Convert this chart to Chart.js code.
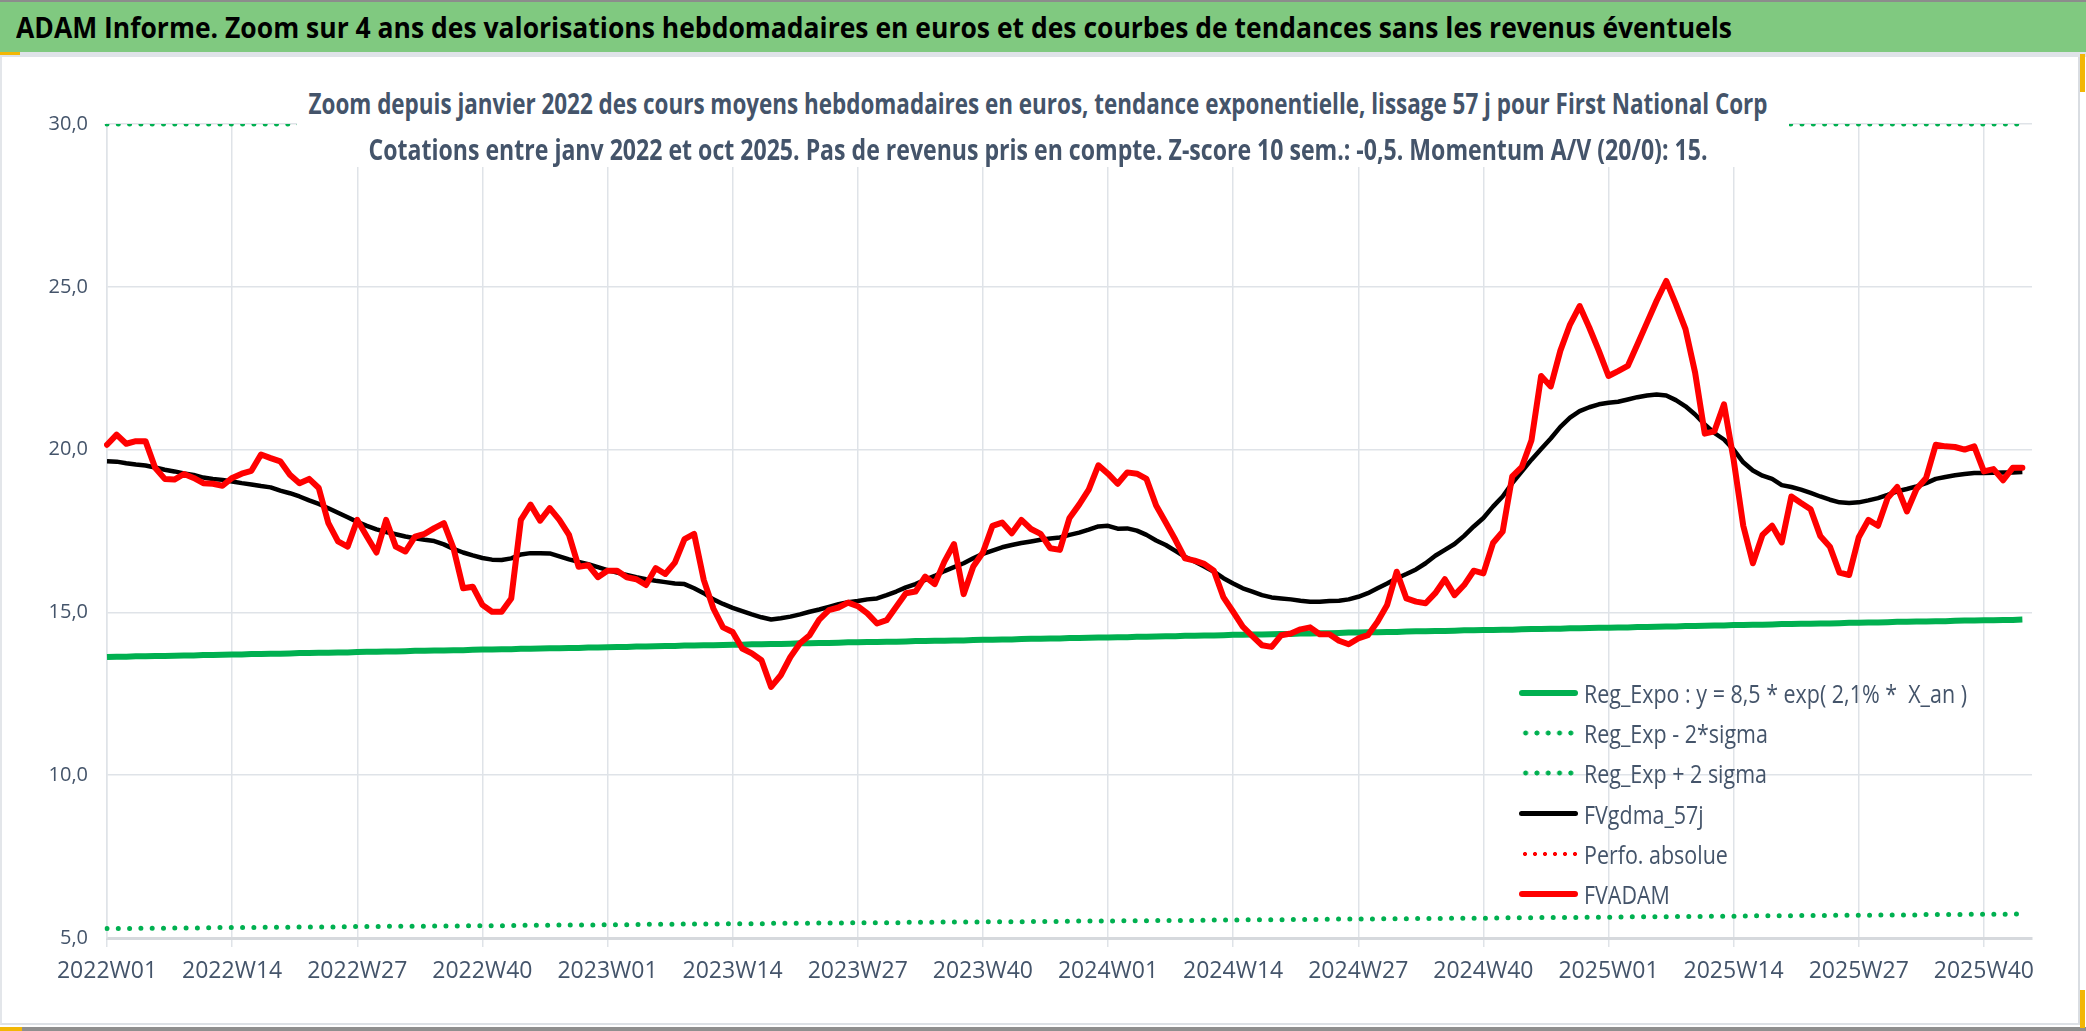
<!DOCTYPE html>
<html lang="fr">
<head>
<meta charset="utf-8">
<title>ADAM Informe - First National Corp</title>
<script src="https://cdn.jsdelivr.net/npm/chart.js@4.4.1/dist/chart.umd.min.js"></script>
<style>
  html, body { margin: 0; padding: 0; background: #fff; }
  body { position: relative; width: 2086px; height: 1031px; overflow: hidden;
         font-family: "Liberation Sans Narrow", "Open Sans", sans-serif; }
  #banner { position: absolute; left: 0; top: 0; width: 2086px; height: 50px;
            background: #80c980; border-top: 2px solid #8c8c8c; }
  #title { position: absolute; left: 16px; top: 0; line-height: 50px; font-size: 29px;
           font-weight: bold; color: #000; white-space: pre; transform-origin: left center; }
  #sep { position: absolute; left: 0; top: 52px; width: 2086px; height: 5px; background: #dfe3e8; }
  #frame { position: absolute; left: 0; top: 57px; width: 2076px; height: 966px;
           border-left: 2px solid #e3e6ea; border-right: 2px solid #d9dde2; border-bottom: 2px solid #dde1e6; }
  #bottomline { position: absolute; left: 0; top: 1027px; width: 2086px; height: 4px; background: #8f8f8f; }
  #c { position: absolute; left: 0; top: 0; }
  #subtitle { position: absolute; left: 295px; top: 15px; width: 1492px; height: 95px; background: #fff; }
  .subline { position: absolute; left: 741px; height: 44px; line-height: 44px;
             color: #44546a; font-weight: bold; font-size: 28px; white-space: pre; transform-origin: left center; }
  #legend { position: absolute; left: 1517px; top: 616px; color: #44546a; font-size: 25px; }
  .row { display: flex; align-items: center; height: 40.2px; }
  .sample { width: 59px; margin-right: 6px; flex: none; }
  .lab { display: inline-block; white-space: pre; transform-origin: left center; }
  .mark { position: absolute; background: #f2b705; }
</style>
</head>
<body>
<div id="banner"><span id="title">ADAM Informe. Zoom sur 4 ans des valorisations hebdomadaires en euros et des courbes de tendances sans les revenus éventuels</span></div>
<div id="sep"></div>
<div id="frame">
  <canvas id="c" width="2076" height="966"></canvas>
  <div id="subtitle">
    <span class="subline" id="sub1" style="top:9px">Zoom depuis janvier 2022 des cours moyens hebdomadaires en euros, tendance exponentielle, lissage 57 j pour First National Corp</span>
    <span class="subline" id="sub2" style="top:55px">Cotations entre janv 2022 et oct 2025. Pas de revenus pris en compte. Z-score 10 sem.: -0,5. Momentum A/V (20/0): 15.</span>
  </div>
  <div id="legend"></div>
</div>
<div id="bottomline"></div>
<div class="mark" style="left:0;top:52px;width:20px;height:3px"></div>
<div class="mark" style="left:0;top:1027px;width:22px;height:4px"></div>
<div class="mark" style="left:2080px;top:54px;width:5px;height:38px"></div>
<div class="mark" style="left:2080px;top:990px;width:5px;height:38px"></div>
<script>
// axe des semaines ISO (la derniere categorie reste vide, comme dans Excel)
const labelYears = [2022, 2023, 2024, 2025];
const weeksInYear = [52, 52, 52, 45];
const weekLabels = [];
labelYears.forEach((y, k) => {
  for (let w = 1; w <= weeksInYear[k]; w++) weekLabels.push(y + "W" + String(w).padStart(2, "0"));
});

const yTicks = [5, 10, 15, 20, 25, 30];

// cours moyens hebdomadaires (FVADAM)
const fvAdam = [
  20.15, 20.46, 20.18, 20.26, 20.26, 19.44, 19.10, 19.08, 19.25, 19.13,
  18.97, 18.95, 18.89, 19.13, 19.26, 19.35, 19.85, 19.74, 19.64, 19.23,
  18.97, 19.10, 18.82, 17.74, 17.18, 17.02, 17.84, 17.33, 16.84, 17.84,
  17.02, 16.87, 17.33, 17.41, 17.59, 17.74, 16.97, 15.74, 15.79, 15.23,
  15.02, 15.02, 15.43, 17.84, 18.31, 17.82, 18.20, 17.84, 17.38, 16.40,
  16.45, 16.08, 16.28, 16.28, 16.08, 16.02, 15.84, 16.36, 16.18, 16.53,
  17.25, 17.41, 16.00, 15.12, 14.54, 14.40, 13.89, 13.74, 13.53, 12.71,
  13.07, 13.63, 14.05, 14.30, 14.78, 15.07, 15.15, 15.30, 15.19, 14.97,
  14.66, 14.76, 15.17, 15.59, 15.64, 16.10, 15.87, 16.56, 17.10, 15.56,
  16.41, 16.84, 17.66, 17.76, 17.43, 17.84, 17.56, 17.41, 16.97, 16.92,
  17.90, 18.31, 18.77, 19.52, 19.26, 18.95, 19.30, 19.26, 19.10, 18.28,
  17.76, 17.23, 16.66, 16.59, 16.49, 16.28, 15.46, 15.02, 14.56, 14.27,
  13.99, 13.94, 14.30, 14.35, 14.48, 14.54, 14.33, 14.33, 14.13, 14.02,
  14.20, 14.30, 14.71, 15.23, 16.25, 15.43, 15.33, 15.28, 15.59, 16.02,
  15.53, 15.84, 16.28, 16.20, 17.13, 17.48, 19.18, 19.47, 20.29, 22.26,
  21.94, 23.04, 23.84, 24.41, 23.75, 23.03, 22.26, 22.41, 22.57, 23.23,
  23.90, 24.57, 25.18, 24.47, 23.70, 22.36, 20.49, 20.56, 21.39, 19.69,
  17.66, 16.51, 17.38, 17.66, 17.15, 18.56, 18.36, 18.17, 17.35, 17.02,
  16.22, 16.15, 17.31, 17.84, 17.66, 18.51, 18.85, 18.10, 18.79, 19.13,
  20.15, 20.10, 20.08, 20.00, 20.10, 19.33, 19.40, 19.06, 19.44, 19.44
];

// lissage 57 j (FVgdma_57j)
const fvGdma57 = [
  19.64, 19.63, 19.58, 19.54, 19.51, 19.45, 19.38, 19.33, 19.27, 19.22,
  19.14, 19.10, 19.07, 19.02, 18.97, 18.93, 18.88, 18.84, 18.74, 18.66,
  18.56, 18.44, 18.33, 18.20, 18.06, 17.92, 17.78, 17.66, 17.55, 17.47,
  17.40, 17.33, 17.28, 17.23, 17.19, 17.09, 16.95, 16.84, 16.75, 16.67,
  16.62, 16.61, 16.66, 16.78, 16.82, 16.82, 16.81, 16.72, 16.63, 16.55,
  16.48, 16.39, 16.30, 16.22, 16.15, 16.08, 16.02, 15.97, 15.93, 15.89,
  15.87, 15.74, 15.59, 15.40, 15.26, 15.14, 15.04, 14.94, 14.85, 14.78,
  14.82, 14.87, 14.94, 15.02, 15.09, 15.17, 15.25, 15.31, 15.35, 15.40,
  15.43, 15.53, 15.64, 15.77, 15.87, 16.00, 16.12, 16.27, 16.39, 16.51,
  16.66, 16.80, 16.90, 17.00, 17.07, 17.13, 17.18, 17.23, 17.27, 17.30,
  17.38, 17.45, 17.54, 17.64, 17.66, 17.57, 17.58, 17.51, 17.38, 17.21,
  17.07, 16.89, 16.71, 16.56, 16.41, 16.25, 16.05, 15.89, 15.74, 15.64,
  15.53, 15.46, 15.43, 15.40, 15.36, 15.33, 15.33, 15.35, 15.36, 15.40,
  15.48, 15.59, 15.74, 15.89, 16.05, 16.18, 16.32, 16.51, 16.74, 16.92,
  17.10, 17.35, 17.64, 17.90, 18.25, 18.56, 18.97, 19.33, 19.69, 20.02,
  20.34, 20.70, 20.98, 21.18, 21.30, 21.39, 21.44, 21.47, 21.54, 21.61,
  21.66, 21.69, 21.66, 21.52, 21.33, 21.08, 20.77, 20.51, 20.31, 20.00,
  19.61, 19.36, 19.20, 19.10, 18.91, 18.85, 18.77, 18.67, 18.56, 18.46,
  18.38, 18.36, 18.38, 18.44, 18.51, 18.61, 18.72, 18.79, 18.87, 18.97,
  19.10, 19.16, 19.21, 19.25, 19.28, 19.28, 19.29, 19.30, 19.30, 19.31
];

// regression exponentielle
const regExpo = [
  13.63, 13.64, 13.64, 13.65, 13.65, 13.66, 13.66, 13.67, 13.68, 13.68,
  13.69, 13.69, 13.70, 13.71, 13.71, 13.72, 13.72, 13.73, 13.73, 13.74,
  13.75, 13.75, 13.76, 13.76, 13.77, 13.77, 13.78, 13.79, 13.79, 13.80,
  13.80, 13.81, 13.82, 13.82, 13.83, 13.83, 13.84, 13.84, 13.85, 13.86,
  13.86, 13.87, 13.87, 13.88, 13.88, 13.89, 13.90, 13.90, 13.91, 13.91,
  13.92, 13.92, 13.93, 13.94, 13.94, 13.95, 13.95, 13.96, 13.97, 13.97,
  13.98, 13.98, 13.99, 13.99, 14.00, 14.01, 14.01, 14.02, 14.02, 14.03,
  14.03, 14.04, 14.05, 14.05, 14.06, 14.06, 14.07, 14.08, 14.08, 14.09,
  14.09, 14.10, 14.10, 14.11, 14.12, 14.12, 14.13, 14.13, 14.14, 14.14,
  14.15, 14.16, 14.16, 14.17, 14.17, 14.18, 14.19, 14.19, 14.20, 14.20,
  14.21, 14.21, 14.22, 14.23, 14.23, 14.24, 14.24, 14.25, 14.25, 14.26,
  14.27, 14.27, 14.28, 14.28, 14.29, 14.29, 14.30, 14.31, 14.31, 14.32,
  14.32, 14.33, 14.34, 14.34, 14.35, 14.35, 14.36, 14.36, 14.37, 14.38,
  14.38, 14.39, 14.39, 14.40, 14.40, 14.41, 14.42, 14.42, 14.43, 14.43,
  14.44, 14.45, 14.45, 14.46, 14.46, 14.47, 14.47, 14.48, 14.49, 14.49,
  14.50, 14.50, 14.51, 14.51, 14.52, 14.53, 14.53, 14.54, 14.54, 14.55,
  14.55, 14.56, 14.57, 14.57, 14.58, 14.58, 14.59, 14.60, 14.60, 14.61,
  14.61, 14.62, 14.62, 14.63, 14.64, 14.64, 14.65, 14.65, 14.66, 14.66,
  14.67, 14.68, 14.68, 14.69, 14.69, 14.70, 14.71, 14.71, 14.72, 14.72,
  14.73, 14.73, 14.74, 14.75, 14.75, 14.76, 14.76, 14.77, 14.77, 14.78
];

// bande basse (Reg_Exp - 2*sigma)
const regMinus2Sigma = [
  5.29, 5.29, 5.29, 5.30, 5.30, 5.30, 5.30, 5.31, 5.31, 5.31,
  5.31, 5.32, 5.32, 5.32, 5.32, 5.32, 5.33, 5.33, 5.33, 5.33,
  5.34, 5.34, 5.34, 5.34, 5.34, 5.35, 5.35, 5.35, 5.35, 5.36,
  5.36, 5.36, 5.36, 5.36, 5.37, 5.37, 5.37, 5.37, 5.38, 5.38,
  5.38, 5.38, 5.38, 5.39, 5.39, 5.39, 5.39, 5.40, 5.40, 5.40,
  5.40, 5.40, 5.41, 5.41, 5.41, 5.41, 5.42, 5.42, 5.42, 5.42,
  5.43, 5.43, 5.43, 5.43, 5.43, 5.44, 5.44, 5.44, 5.44, 5.45,
  5.45, 5.45, 5.45, 5.45, 5.46, 5.46, 5.46, 5.46, 5.47, 5.47,
  5.47, 5.47, 5.47, 5.48, 5.48, 5.48, 5.48, 5.49, 5.49, 5.49,
  5.49, 5.50, 5.50, 5.50, 5.50, 5.50, 5.51, 5.51, 5.51, 5.51,
  5.52, 5.52, 5.52, 5.52, 5.52, 5.53, 5.53, 5.53, 5.53, 5.54,
  5.54, 5.54, 5.54, 5.54, 5.55, 5.55, 5.55, 5.55, 5.56, 5.56,
  5.56, 5.56, 5.56, 5.57, 5.57, 5.57, 5.57, 5.58, 5.58, 5.58,
  5.58, 5.58, 5.59, 5.59, 5.59, 5.59, 5.60, 5.60, 5.60, 5.60,
  5.61, 5.61, 5.61, 5.61, 5.61, 5.62, 5.62, 5.62, 5.62, 5.63,
  5.63, 5.63, 5.63, 5.63, 5.64, 5.64, 5.64, 5.64, 5.65, 5.65,
  5.65, 5.65, 5.65, 5.66, 5.66, 5.66, 5.66, 5.67, 5.67, 5.67,
  5.67, 5.68, 5.68, 5.68, 5.68, 5.68, 5.69, 5.69, 5.69, 5.69,
  5.70, 5.70, 5.70, 5.70, 5.71, 5.71, 5.71, 5.71, 5.71, 5.72,
  5.72, 5.72, 5.72, 5.73, 5.73, 5.73, 5.73, 5.73, 5.74, 5.74
];

// bande haute (Reg_Exp + 2 sigma), plafonnee en haut de l'axe
const regPlus2Sigma = [
  30, 30, 30, 30, 30, 30, 30, 30, 30, 30, 30, 30, 30, 30, 30, 30, 30, 30, 30, 30,
  30, 30, 30, 30, 30, 30, 30, 30, 30, 30, 30, 30, 30, 30, 30, 30, 30, 30, 30, 30,
  30, 30, 30, 30, 30, 30, 30, 30, 30, 30, 30, 30, 30, 30, 30, 30, 30, 30, 30, 30,
  30, 30, 30, 30, 30, 30, 30, 30, 30, 30, 30, 30, 30, 30, 30, 30, 30, 30, 30, 30,
  30, 30, 30, 30, 30, 30, 30, 30, 30, 30, 30, 30, 30, 30, 30, 30, 30, 30, 30, 30,
  30, 30, 30, 30, 30, 30, 30, 30, 30, 30, 30, 30, 30, 30, 30, 30, 30, 30, 30, 30,
  30, 30, 30, 30, 30, 30, 30, 30, 30, 30, 30, 30, 30, 30, 30, 30, 30, 30, 30, 30,
  30, 30, 30, 30, 30, 30, 30, 30, 30, 30, 30, 30, 30, 30, 30, 30, 30, 30, 30, 30,
  30, 30, 30, 30, 30, 30, 30, 30, 30, 30, 30, 30, 30, 30, 30, 30, 30, 30, 30, 30,
  30, 30, 30, 30, 30, 30, 30, 30, 30, 30, 30, 30, 30, 30, 30, 30, 30, 30, 30, 30
];

// serie presente dans la legende mais sans point visible
const perfoAbsolue = [];

const GREEN = "#00b050";
const RED = "#ff0000";
const GRID = "#dfe3e8";
const TEXT = "#44546a";

Chart.defaults.font.family = '"Liberation Sans Narrow", "Open Sans", sans-serif';
Chart.defaults.color = TEXT;

const dotted = { borderDash: [0, 11.3], borderCapStyle: "round" };

const chart = new Chart(document.getElementById("c"), {
  type: "line",
  data: {
    labels: weekLabels,
    datasets: [
      { label: "Reg_Expo : y = 8,5 * exp( 2,1% *  X_an )", data: regExpo,
        borderColor: GREEN, borderWidth: 6, order: 6 },
      { label: "Reg_Exp - 2*sigma", data: regMinus2Sigma,
        borderColor: GREEN, borderWidth: 5, order: 5, ...dotted },
      { label: "Reg_Exp + 2 sigma", data: regPlus2Sigma,
        borderColor: GREEN, borderWidth: 5, order: 4, ...dotted },
      { label: "FVgdma_57j", data: fvGdma57,
        borderColor: "#000000", borderWidth: 4.5, order: 3 },
      { label: "Perfo. absolue", data: perfoAbsolue,
        borderColor: RED, borderWidth: 4, order: 2, borderDash: [0, 10], borderCapStyle: "round" },
      { label: "FVADAM", data: fvAdam,
        borderColor: RED, borderWidth: 6, order: 1, borderJoinStyle: "round", borderCapStyle: "round" }
    ]
  },
  options: {
    responsive: false,
    animation: false,
    events: [],
    elements: { point: { radius: 0 }, line: { tension: 0, borderJoinStyle: "round" } },
    layout: { padding: { top: 67, right: 46, bottom: 0, left: 0 } },
    plugins: { legend: { display: false }, tooltip: { enabled: false }, title: { display: false } },
    scales: {
      x: {
        offset: false,
        grid: { color: GRID, lineWidth: 1.5, tickLength: 9 },
        border: { color: "#d6d9dd", width: 3 },
        ticks: { autoSkip: false, maxRotation: 0, padding: 11, font: { size: 23 }, color: TEXT },
        afterBuildTicks: (axis) => { axis.ticks = axis.ticks.filter(t => t.value % 13 === 0); },
        afterFit: (axis) => { axis.height = 85; }
      },
      y: {
        min: yTicks[0],
        max: yTicks[yTicks.length - 1],
        grid: { color: GRID, lineWidth: 1.5, drawTicks: false },
        border: { color: GRID, width: 1.5 },
        ticks: { stepSize: 5, padding: 19, font: { size: 20 }, color: TEXT,
                 callback: (v) => v.toFixed(1).replace(".", ",") },
        afterFit: (axis) => { axis.width = 105; }
      }
    }
  }
});

// legende HTML construite a partir des series
const legendEl = document.getElementById("legend");
chart.data.datasets.forEach(ds => {
  const row = document.createElement("div");
  row.className = "row";
  const sample = document.createElement("div");
  sample.className = "sample";
  if (ds.borderDash) {
    const r = ds.borderWidth / 2;
    sample.style.height = "8px";
    sample.style.backgroundImage = `radial-gradient(circle, ${ds.borderColor} ${r - 0.4}px, transparent ${r + 0.4}px)`;
    sample.style.backgroundSize = `${ds.borderDash[1]}px 8px`;
    sample.style.backgroundPosition = "1px 0";
  } else {
    sample.style.height = (ds.borderWidth + 0.5) + "px";
    sample.style.background = ds.borderColor;
    sample.style.borderRadius = "4px";
  }
  const lab = document.createElement("span");
  lab.className = "lab";
  lab.textContent = ds.label;
  row.appendChild(sample);
  row.appendChild(lab);
  legendEl.appendChild(row);
});

// ajuste la largeur des textes a celle de la police condensee d'origine
function fitWidth(el, target, centered) {
  const w = el.getBoundingClientRect().width;
  const k = target / w;
  el.style.transform = centered ? `scaleX(${k}) translateX(-50%)` : `scaleX(${k})`;
}
fitWidth(document.getElementById("title"), 1716, false);
fitWidth(document.getElementById("sub1"), 1459, true);
fitWidth(document.getElementById("sub2"), 1339, true);
const labs = legendEl.querySelectorAll(".lab");
const k = 383 / labs[0].getBoundingClientRect().width;
labs.forEach(l => { l.style.transform = `scaleX(${k})`; });
</script>
</body>
</html>
